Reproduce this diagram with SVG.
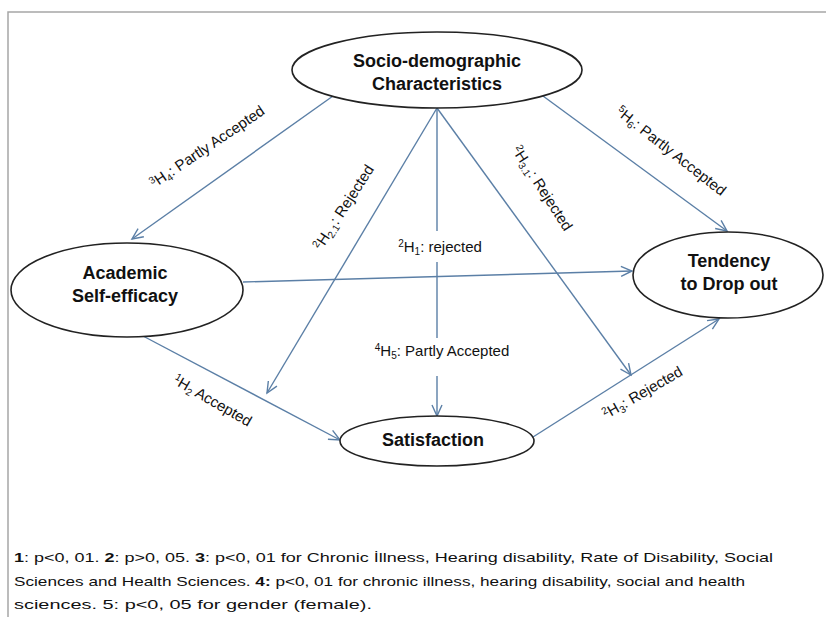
<svg xmlns="http://www.w3.org/2000/svg" width="826" height="617" viewBox="0 0 826 617">
<style>
.node ellipse{fill:#fff;stroke:#222;stroke-width:1.6}
.nt{font-family:"Liberation Sans",Arial,sans-serif;font-weight:bold;font-size:18px;fill:#111;text-anchor:middle}
.edge{stroke:#5b7fa6;stroke-width:1.4;fill:none}
.lbl{font-family:"Liberation Sans",Arial,sans-serif;font-size:15px;fill:#111;text-anchor:middle}
.sup{font-size:10px}
.fn{font-family:"Liberation Sans",Arial,sans-serif;font-size:13.5px;fill:#111}
</style>
<defs>
<marker id="arr" markerUnits="userSpaceOnUse" markerWidth="14" markerHeight="12" refX="12" refY="6" orient="auto">
<path d="M1,1 L12,6 L1,11" fill="none" stroke="#5b7fa6" stroke-width="1.4"/>
</marker>
</defs>
<rect x="0" y="0" width="826" height="617" fill="#fff"/>
<path d="M8,617 L8,12 L826,12" fill="none" stroke="#a6a6a6" stroke-width="1.5"/>
<g id="connectors">
<line class="edge" x1="333" y1="96" x2="132" y2="239" marker-end="url(#arr)"/>
<line class="edge" x1="437" y1="108" x2="267" y2="393" marker-end="url(#arr)"/>
<line class="edge" x1="437" y1="108" x2="437" y2="231"/>
<line class="edge" x1="437" y1="262" x2="437" y2="338"/>
<line class="edge" x1="437" y1="376" x2="437" y2="416" marker-end="url(#arr)"/>
<line class="edge" x1="437" y1="108" x2="631" y2="375" marker-end="url(#arr)"/>
<line class="edge" x1="543" y1="96" x2="727" y2="231" marker-end="url(#arr)"/>
<line class="edge" x1="243" y1="282" x2="632" y2="271" marker-end="url(#arr)"/>
<line class="edge" x1="143" y1="336" x2="340" y2="440" marker-end="url(#arr)"/>
<line class="edge" x1="533" y1="437" x2="719" y2="319" marker-end="url(#arr)"/>
</g>
<g id="labels">
<text class="lbl" transform="translate(210,151) rotate(-34)"><tspan class="sup" dy="-5">3</tspan><tspan dy="5">H</tspan><tspan class="sup" dy="3">4</tspan><tspan dy="-3">: Partly Accepted</tspan></text>
<text class="lbl" transform="translate(348,210) rotate(-57)"><tspan class="sup" dy="-5">2</tspan><tspan dy="5">H</tspan><tspan class="sup" dy="3">2.1</tspan><tspan dy="-3">: Rejected</tspan></text>
<text class="lbl" x="440" y="252"><tspan class="sup" dy="-5">2</tspan><tspan dy="5">H</tspan><tspan class="sup" dy="3">1</tspan><tspan dy="-3">: rejected</tspan></text>
<text class="lbl" x="442" y="356"><tspan class="sup" dy="-5">4</tspan><tspan dy="5">H</tspan><tspan class="sup" dy="3">5</tspan><tspan dy="-3">: Partly Accepted</tspan></text>
<text class="lbl" transform="translate(538,191) rotate(57)"><tspan class="sup" dy="-5">2</tspan><tspan dy="5">H</tspan><tspan class="sup" dy="3">3.1</tspan><tspan dy="-3">: Rejected</tspan></text>
<text class="lbl" transform="translate(668,155) rotate(38)"><tspan class="sup" dy="-5">5</tspan><tspan dy="5">H</tspan><tspan class="sup" dy="3">6</tspan><tspan dy="-3">: Partly Accepted</tspan></text>
<text class="lbl" transform="translate(210,405) rotate(30)"><tspan class="sup" dy="-5">1</tspan><tspan dy="5">H</tspan><tspan class="sup" dy="3">2</tspan><tspan dy="-3"> Accepted</tspan></text>
<text class="lbl" transform="translate(645,397) rotate(-30)"><tspan class="sup" dy="-5">2</tspan><tspan dy="5">H</tspan><tspan class="sup" dy="3">3</tspan><tspan dy="-3">: Rejected</tspan></text>
</g>
<g id="socio" class="node">
<ellipse cx="437" cy="70" rx="145" ry="38"/>
<text class="nt" x="437" y="67">Socio-demographic</text>
<text class="nt" x="437" y="90">Characteristics</text>
</g>
<g id="academic" class="node">
<ellipse cx="127" cy="290" rx="116" ry="47"/>
<text class="nt" x="125" y="279">Academic</text>
<text class="nt" x="125" y="302">Self-efficacy</text>
</g>
<g id="tendency" class="node">
<ellipse cx="728" cy="275" rx="95" ry="43"/>
<text class="nt" x="729" y="267">Tendency</text>
<text class="nt" x="729" y="290">to Drop out</text>
</g>
<g id="satisfaction" class="node">
<ellipse cx="437" cy="441" rx="97" ry="25"/>
<text class="nt" x="433" y="446">Satisfaction</text>
</g>
<g id="footnote">
<text class="fn" x="14" y="562" textLength="759" lengthAdjust="spacingAndGlyphs"><tspan font-weight="bold">1</tspan>: p&lt;0, 01. <tspan font-weight="bold">2</tspan>: p&gt;0, 05. <tspan font-weight="bold">3</tspan>: p&lt;0, 01 for Chronic İllness, Hearing disability, Rate of Disability, Social</text>
<text class="fn" x="14" y="586" textLength="731" lengthAdjust="spacingAndGlyphs">Sciences and Health Sciences. <tspan font-weight="bold">4:</tspan> p&lt;0, 01 for chronic illness, hearing disability, social and health</text>
<text class="fn" x="14" y="609" textLength="358" lengthAdjust="spacingAndGlyphs">sciences. 5: p&lt;0, 05 for gender (female).</text>
</g>
</svg>
